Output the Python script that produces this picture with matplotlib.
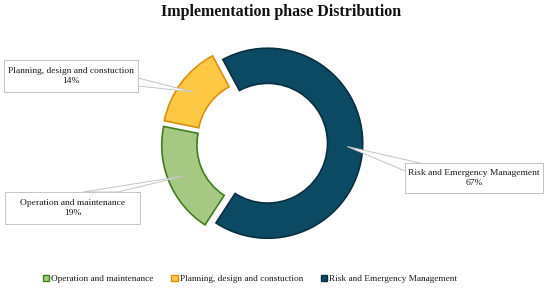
import matplotlib
matplotlib.use("Agg")
import matplotlib.pyplot as plt
from matplotlib.patches import Polygon, Rectangle, Patch
import numpy as np

plt.rcParams['font.family'] = ['Liberation Serif', 'DejaVu Serif']

title = "Implementation phase Distribution"
categories = ["Operation and maintenance", "Planning, design and constuction", "Risk and Emergency Management"]
values = [19, 14, 67]
pct_labels = ["19%", "14%", "67%"]
fills = ["#A6C883", "#FFC845", "#0C4A64"]
edges = ["#3F7D20", "#DB900F", "#0A2F40"]

W, H = 550, 288
fig = plt.figure(figsize=(W / 100, H / 100), dpi=100)

# pie axes: center at (262, 145 from bottom), radius 95 px
cx, cy, R = 262, 145, 95
lim = 1.2
half = lim * R
ax = fig.add_axes([(cx - half) / W, (cy - half) / H, 2 * half / W, 2 * half / H])
explode = 0.06
startangle = 237
wedges, _ = ax.pie(values, radius=1, explode=[explode] * 3, startangle=startangle,
                   counterclock=False, colors=fills,
                   wedgeprops=dict(width=0.37, linewidth=1.2))
for w, e in zip(wedges, edges):
    w.set_edgecolor(e)
ax.set_xlim(-lim, lim)
ax.set_ylim(-lim, lim)
ax.set_aspect('equal')
ax.axis('off')

# overlay axes in pixel coordinates (y down)
ov = fig.add_axes([0, 0, 1, 1], zorder=5)
ov.set_xlim(0, W)
ov.set_ylim(H, 0)
ov.axis('off')

def apex_px(i):
    w = wedges[i]
    mid = np.deg2rad((w.theta1 + w.theta2) / 2)
    r = explode + 0.84
    x, y = r * np.cos(mid), r * np.sin(mid)
    disp = ax.transData.transform((x, y))
    px = ov.transData.inverted().transform(disp)
    return px

boxes = [(5, 192, 135, 32), (4, 60, 134, 32), (405, 163, 138, 30)]
bases = [[(83, 192), (118, 192)], [(138, 78), (138, 86)], [(405, 171), (420, 163)]]
for i in range(3):
    ap = apex_px(i)
    poly = Polygon([ap, bases[i][0], bases[i][1]], closed=True, facecolor="white",
                   edgecolor="#C4C4C4", linewidth=0.7, zorder=1)
    ov.add_patch(poly)
    bx, by, bw, bh = boxes[i]
    ov.add_patch(Rectangle((bx, by), bw, bh, facecolor="white", edgecolor="#C4C4C4",
                           linewidth=0.7, zorder=2))
    ov.text(bx + bw / 2, by + bh / 2, categories[i] + "\n" + pct_labels[i],
            ha='center', va='center', fontsize=6.8, color="#1a1a1a", zorder=3,
            linespacing=1.25)

fig.text(281 / W, 1 - 12 / H, title, ha='center', va='center', fontsize=11.5,
         fontweight='bold', color="#111111")

handles = [Patch(facecolor=f, edgecolor=e, linewidth=1.0) for f, e in zip(fills, edges)]
fig.legend(handles, categories, loc='center', bbox_to_anchor=(250 / W, 1 - 279 / H),
           ncol=3, frameon=False, fontsize=6.7, handlelength=0.7, handleheight=0.7,
           handletextpad=0.2, columnspacing=1.9, labelcolor="#1a1a1a")

fig.savefig("out.png", dpi=100)
